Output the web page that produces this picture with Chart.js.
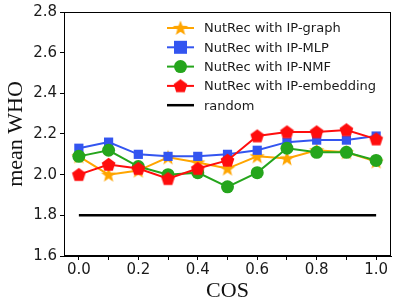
<!DOCTYPE html>
<html>
<head>
<meta charset="utf-8">
<script src="https://cdn.jsdelivr.net/npm/chart.js@4/dist/chart.umd.min.js"></script>
<style>
  html, body { margin: 0; padding: 0; background: #fff; }
  #wrap { width: 399px; height: 308px; }
</style>
</head>
<body>
<div id="wrap"><canvas id="chart" width="399" height="308"></canvas></div>
<script>
  // data
  const cosValues = [0.0, 0.1, 0.2, 0.3, 0.4, 0.5, 0.6, 0.7, 0.8, 0.9, 1.0];
  const graphValues = [2.09, 2.00, 2.02, 2.085, 2.06, 2.03, 2.09, 2.08, 2.12, 2.11, 2.065];
  const mlpValues = [2.13, 2.16, 2.10, 2.09, 2.09, 2.10, 2.12, 2.16, 2.17, 2.17, 2.19];
  const nmfValues = [2.09, 2.12, 2.04, 2.00, 2.01, 1.94, 2.01, 2.13, 2.11, 2.11, 2.07];
  const embedValues = [2.00, 2.05, 2.03, 1.98, 2.03, 2.07, 2.19, 2.21, 2.21, 2.22, 2.175];
  const randomValues = [1.8, 1.8, 1.8, 1.8, 1.8, 1.8, 1.8, 1.8, 1.8, 1.8, 1.8];
  const seriesNames = ['NutRec with IP-graph', 'NutRec with IP-MLP', 'NutRec with IP-NMF', 'NutRec with IP-embedding', 'random'];
  const yTicks = [1.6, 1.8, 2.0, 2.2, 2.4, 2.6, 2.8];

  const toPoints = vals => vals.map((v, i) => ({ x: cosValues[i], y: v }));

  // filled polygon markers (matplotlib '*' and 'p')
  function polyMarker(color, n, r, inner) {
    const c = document.createElement('canvas');
    const s = Math.ceil(r * 2 + 2);
    c.width = s; c.height = s;
    const g = c.getContext('2d');
    g.fillStyle = color;
    g.beginPath();
    const steps = inner ? n * 2 : n;
    for (let k = 0; k < steps; k++) {
      const a = -Math.PI / 2 + k * Math.PI * 2 / steps;
      const rr = inner && k % 2 ? r * inner : r;
      const px = s / 2 + rr * Math.cos(a), py = s / 2 + rr * Math.sin(a) + (inner ? 0.5 : 0.4);
      k ? g.lineTo(px, py) : g.moveTo(px, py);
    }
    g.closePath();
    g.fill();
    return c;
  }
  const starImg = polyMarker('#ffa500', 5, 8, 0.42);
  const pentImg = polyMarker('#ff0d0d', 5, 7.2, 0);

  const colors = ['#ffa500', '#3355f0', '#25a51c', '#ff0d0d', '#000000'];

  const frame = {
    id: 'frame',
    afterDraw(chart) {
      const a = chart.chartArea, ctx = chart.ctx;
      ctx.save();
      ctx.strokeStyle = '#000';
      ctx.lineWidth = 1;
      ctx.strokeRect(a.left + 0.5, a.top + 0.5, a.right - a.left - 1, a.bottom - a.top - 1);
      ctx.restore();
    }
  };

  // matplotlib style legend: line with marker in the middle
  const legendBox = {
    id: 'legendBox',
    afterDraw(chart) {
      const ctx = chart.ctx, a = chart.chartArea;
      const x0 = a.left + 103, y0 = a.top + 16, gap = 19.3;
      ctx.save();
      ctx.font = '13px "DejaVu Sans"';
      ctx.textBaseline = 'middle';
      chart.data.datasets.forEach((ds, i) => {
        const y = y0 + i * gap;
        ctx.strokeStyle = ds.borderColor;
        ctx.lineWidth = ds.borderWidth;
        ctx.beginPath();
        ctx.moveTo(x0, y);
        ctx.lineTo(x0 + 27, y);
        ctx.stroke();
        if (ds.pointRadius > 0) {
          ctx.fillStyle = ds.pointBackgroundColor;
          if (typeof ds.pointStyle !== 'string') {
            ctx.drawImage(ds.pointStyle, x0 + 13.5 - ds.pointStyle.width / 2, y - ds.pointStyle.height / 2);
          } else if (ds.pointStyle === 'rect') {
            ctx.fillRect(x0 + 13.5 - ds.pointRadius, y - ds.pointRadius, ds.pointRadius * 2, ds.pointRadius * 2);
          } else {
            ctx.beginPath();
            ctx.arc(x0 + 13.5, y, ds.pointRadius, 0, Math.PI * 2);
            ctx.fill();
          }
        }
        ctx.fillStyle = '#1a1a1a';
        ctx.fillText(ds.label, x0 + 37, y + 1);
      });
      ctx.restore();
    }
  };

  function lineSet(i, vals, style, radius, ord) {
    return {
      label: seriesNames[i],
      data: toPoints(vals),
      borderColor: colors[i],
      backgroundColor: colors[i],
      pointBackgroundColor: colors[i],
      pointBorderWidth: 0,
      borderWidth: 2,
      pointStyle: style,
      pointRadius: radius,
      order: ord
    };
  }

  new Chart(document.getElementById('chart'), {
    type: 'line',
    data: {
      datasets: [
        lineSet(0, graphValues, starImg, 8, 5),
        lineSet(1, mlpValues, 'rect', 6.5, 4),
        lineSet(2, nmfValues, 'circle', 6.5, 3),
        lineSet(3, embedValues, pentImg, 7, 2),
        Object.assign(lineSet(4, randomValues, 'circle', 0, 1), { borderWidth: 2.5 })
      ]
    },
    options: {
      responsive: false,
      animation: false,
      layout: { padding: { left: 0, right: 5, top: 12, bottom: 0 } },
      plugins: { legend: { display: false }, tooltip: { enabled: false } },
      scales: {
        x: {
          type: 'linear',
          min: -0.05, max: 1.05,
          afterBuildTicks: axis => {
            axis.ticks = cosValues.map(v => ({ value: v }));
          },
          afterFit: axis => { axis.height = 52; },
          ticks: {
            autoSkip: false, maxRotation: 0, padding: 1,
            color: '#1a1a1a',
            font: { family: 'DejaVu Sans', size: 15 },
            callback: v => (Math.round(v * 10) % 2 === 0 ? v.toFixed(1) : '')
          },
          grid: { drawOnChartArea: false, drawTicks: true, tickLength: 4, color: '#000' },
          border: { color: '#000', width: 1 },
          title: {
            display: true, text: 'COS', color: '#111',
            font: { family: 'Liberation Serif', size: 22 },
            padding: { top: 0, bottom: 4 }
          }
        },
        y: {
          min: 1.6, max: 2.8,
          afterBuildTicks: axis => {
            axis.ticks = yTicks.map(v => ({ value: v }));
          },
          afterFit: axis => { axis.width = 64; },
          ticks: {
            padding: 3, color: '#1a1a1a',
            font: { family: 'DejaVu Sans', size: 15 },
            callback: v => v.toFixed(1)
          },
          grid: { drawOnChartArea: false, drawTicks: true, tickLength: 4, color: '#000' },
          border: { color: '#000', width: 1 },
          title: {
            display: true, text: 'mean WHO', color: '#111',
            font: { family: 'Liberation Serif', size: 22 },
            padding: { top: 3, bottom: 0 }
          }
        }
      }
    },
    plugins: [frame, legendBox]
  });
</script>
</body>
</html>
